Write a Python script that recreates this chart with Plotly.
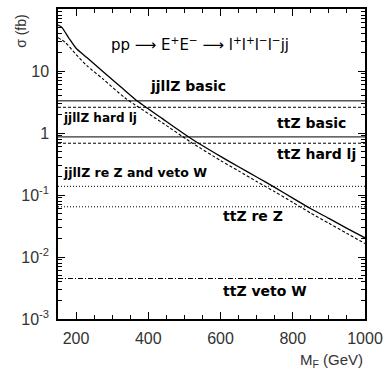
import plotly.graph_objects as go

# Signal cross section vs heavy lepton mass (fb)
mass_solid = [150, 160, 180, 200, 230, 275, 325, 365, 440, 515, 600, 650, 700, 750, 800, 850, 900, 950, 1000]
sigma_solid = [55, 51, 34, 23.3, 16.5, 9.75, 5.46, 3.45, 1.69, 0.84, 0.42, 0.285, 0.195, 0.133, 0.089, 0.060, 0.042, 0.029, 0.0204]

mass_dashed = [150, 170, 200, 230, 275, 335, 440, 515, 600, 650, 700, 750, 800, 850, 900, 950, 1000]
sigma_dashed = [34.5, 29, 18.5, 12.2, 7.4, 3.7, 1.45, 0.73, 0.36, 0.245, 0.165, 0.113, 0.076, 0.051, 0.035, 0.024, 0.0165]

# Background levels (fb)
bkg_names = ["jjllZ basic", "jjllZ hard lj", "ttZ basic", "ttZ hard lj",
             "jjllZ re Z and veto W", "ttZ re Z", "ttZ veto W"]
bkg_values = [3.3, 2.6, 0.865, 0.684, 0.138, 0.0645, 0.0045]
bkg_dash = ["solid", "3px,2px", "solid", "3px,2px", "1px,2px", "1px,2px", "5px,2px,1px,2px"]

x_range = [150, 1000]

fig = go.Figure()

for name, val, dash in zip(bkg_names, bkg_values, bkg_dash):
    fig.add_trace(go.Scatter(x=x_range, y=[val, val], mode="lines", name=name,
                             line=dict(color="black", width=1, dash=dash),
                             showlegend=False, hoverinfo="skip"))

fig.add_trace(go.Scatter(x=mass_solid, y=sigma_solid, mode="lines",
                         line=dict(color="black", width=1.3, shape="spline", smoothing=0.6),
                         showlegend=False))
fig.add_trace(go.Scatter(x=mass_dashed, y=sigma_dashed, mode="lines",
                         line=dict(color="black", width=1.1, dash="3px,2px", shape="spline", smoothing=0.6),
                         showlegend=False))

# (text, x, log10 y, font size)
labels = [
    ("jjllZ basic", 400, 0.754, 14),
    ("jjllZ hard lj", 157, 0.240, 12),
    ("ttZ basic", 752, 0.160, 14),
    ("ttZ hard lj", 752, -0.337, 14),
    ("jjllZ re Z and veto W", 157, -0.641, 12.5),
    ("ttZ re Z", 600, -1.331, 14),
    ("ttZ veto W", 600, -2.550, 14),
]
for text, x, ly, size in labels:
    fig.add_annotation(x=x, y=ly, xref="x", yref="y", text="<b>" + text + "</b>",
                       showarrow=False, xanchor="left", yanchor="middle",
                       font=dict(family="DejaVu Sans", size=size, color="black"))

fig.add_annotation(x=542, y=1.443, xref="x", yref="y",
                   text="pp ⟶ E<sup>+</sup>E<sup>−</sup> ⟶ l<sup>+</sup>l<sup>+</sup>l<sup>−</sup>l<sup>−</sup>jj",
                   showarrow=False, xanchor="center", yanchor="middle",
                   font=dict(family="DejaVu Sans", size=15, color="black"))

fig.add_annotation(x=-0.12, y=0.93, xref="paper", yref="paper", text="σ (fb)",
                   textangle=-90, showarrow=False, xanchor="center", yanchor="middle",
                   font=dict(family="Liberation Sans", size=14, color="#333"))
fig.add_annotation(x=1.0, y=-0.135, xref="paper", yref="paper", text="M<sub>F</sub> (GeV)",
                   showarrow=False, xanchor="right", yanchor="middle",
                   font=dict(family="Liberation Sans", size=15, color="#333"))

tick_font = dict(family="Liberation Sans", size=16, color="#333")

# minor log ticks: 2..9 within each decade
y_minor = [m * 10.0 ** e for e in range(-3, 2) for m in range(2, 10)]

fig.update_xaxes(range=x_range, tickvals=[200, 400, 600, 800, 1000],
                 ticks="inside", ticklen=7, tickwidth=1, tickcolor="black",
                 minor=dict(ticks="inside", ticklen=4, tickcolor="black", dtick=50, showgrid=False),
                 showline=True, linecolor="black", linewidth=1.5, mirror="allticks",
                 showgrid=False, zeroline=False, tickfont=tick_font, ticklabelstandoff=4)
fig.update_yaxes(type="log", range=[-3, 2],
                 tickvals=[0.001, 0.01, 0.1, 1, 10, 100],
                 ticktext=["10<sup>-3</sup>", "10<sup>-2</sup>", "10<sup>-1</sup>", "1", "10", ""],
                 ticks="inside", ticklen=7, tickwidth=1, tickcolor="black",
                 minor=dict(ticks="inside", ticklen=4, tickcolor="black", tickvals=y_minor, showgrid=False),
                 showline=True, linecolor="black", linewidth=1.5, mirror="allticks",
                 showgrid=False, zeroline=False, tickfont=tick_font, ticklabelstandoff=4)

fig.update_layout(width=390, height=372, margin=dict(l=58, r=20, t=7, b=53),
                  paper_bgcolor="white", plot_bgcolor="white", showlegend=False)

fig.write_html("out.html")
